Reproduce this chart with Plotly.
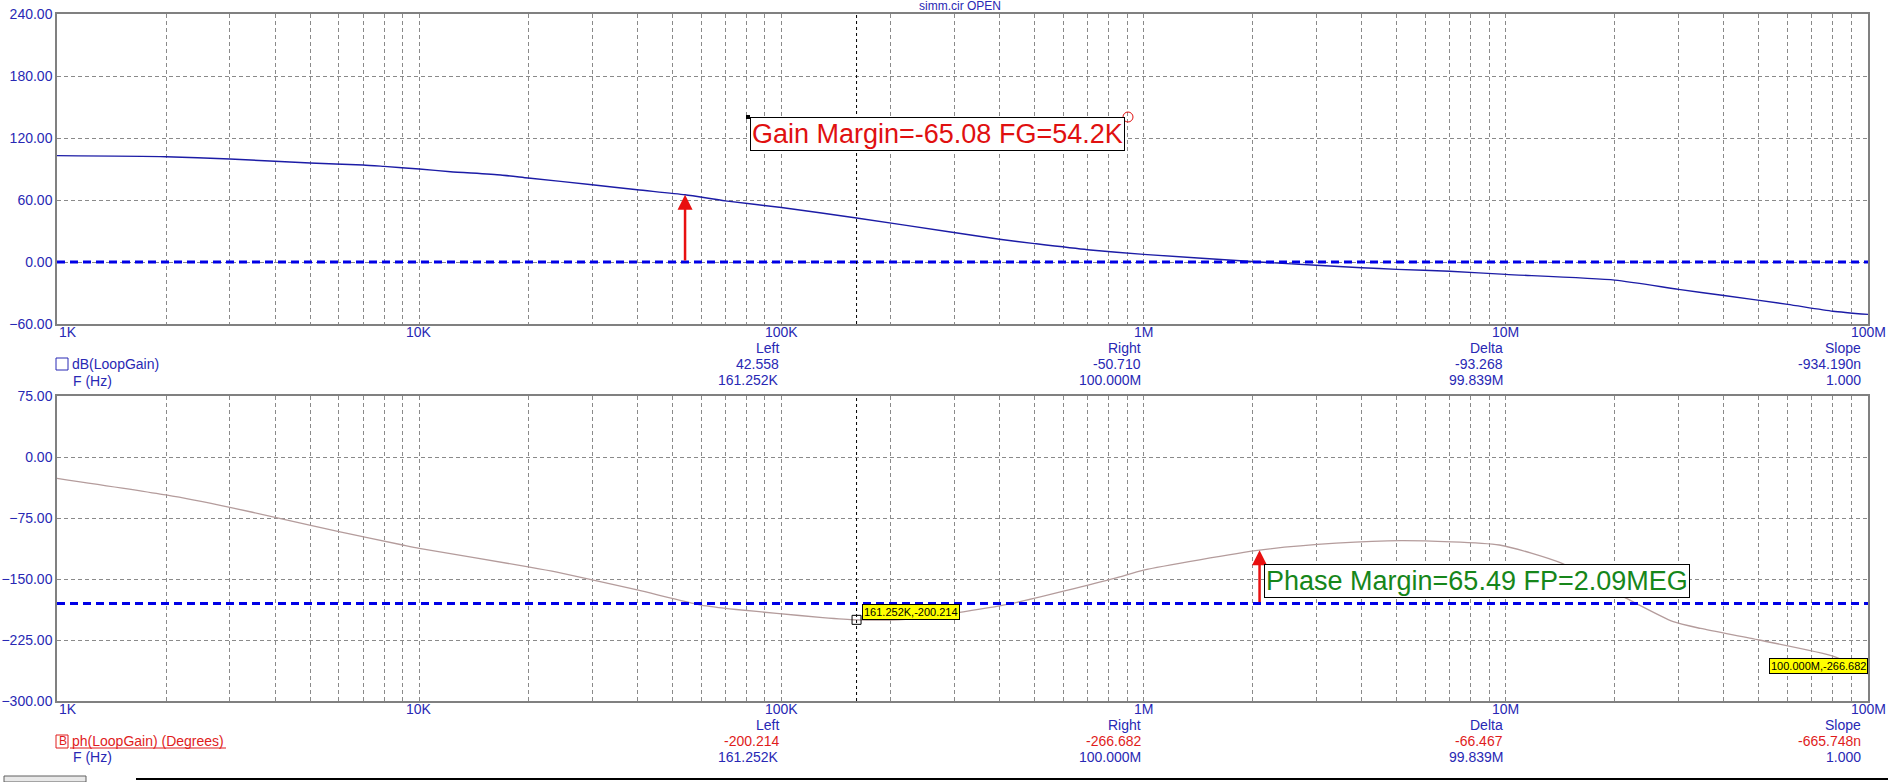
import numpy as np
import plotly.graph_objects as go

# ---------------- data ----------------
freq_gain = [1e3, 2e3, 3e3, 5e3, 7e3, 8e3, 10e3, 12.2e3, 16.8e3, 20e3, 30e3, 40e3, 54.2e3, 70e3,
             100e3, 161.252e3, 293e3, 400e3, 500e3, 700e3, 1e6, 2.09e6, 3e6, 4e6, 5e6, 7e6,
             10e6, 20e6, 30e6, 40e6, 60e6, 80e6, 100e6]
gain_db = [102.9, 101.9, 99.7, 95.8, 93.9, 92.5, 90.0, 87.4, 84.2, 81.3, 74.8, 69.9, 65.08, 59.2,
           52.7, 42.558, 29.0, 22.0, 17.8, 11.9, 7.4, 0.0, -3.2, -5.5, -7.1, -9.0,
           -12.0, -17.5, -26.5, -32.4, -41.0, -47.6, -50.710]

freq_phase = [1e3, 2e3, 3e3, 4e3, 6e3, 9e3, 10e3, 20e3, 24e3, 40e3, 60e3, 75e3, 97e3, 130e3,
              161.252e3, 220e3, 300e3, 434e3, 830e3, 1e6, 2.09e6, 3.4e6, 5.2e6, 9.6e6, 14.3e6,
              22e6, 29e6, 34.5e6, 50e6, 80e6, 90e6, 100e6]
phase_deg = [-26.2, -46.7, -61.9, -74.1, -91.8, -108.2, -112.3, -135.0, -141.5, -163.5, -182.0,
             -187.5, -192.2, -197.5, -200.214, -199.5, -192.0, -180.0, -149.2, -139.0, -114.51,
             -106.0, -102.9, -108.2, -130.8, -176.0, -202.5, -210.8, -225.0, -244.7, -255.0,
             -266.682]

x_tick_vals = [m * 10 ** d for d in range(3, 8) for m in range(1, 10)] + [1e8]
x_decade_vals = [1e3, 1e4, 1e5, 1e6, 1e7, 1e8]
x_decade_labels = ["1K", "10K", "100K", "1M", "10M", "100M"]
gain_ticks = [-60, 0, 60, 120, 180, 240]
phase_ticks = [-300, -225, -150, -75, 0, 75]

gain_margin = -65.08
fg = 54.2e3
phase_margin = 65.49
fp = 2.09e6
cursor_f = 161.252e3
cursor_phase = -200.214
end_f = 100e6
end_phase = -266.682

readout_heads = ["Left", "Right", "Delta", "Slope"]
gain_readout = ["42.558", "-50.710", "-93.268", "-934.190n"]
phase_readout = ["-200.214", "-266.682", "-66.467", "-665.748n"]
freq_readout = ["161.252K", "100.000M", "99.839M", "1.000"]

# ---------------- layout helpers ----------------
W, H = 1901, 782
L, R, T, B = 57, 1868, 14, 701


def px(x):
    return (x - L) / (R - L)


def py(y):
    return (B - y) / (B - T)


FONT = "Liberation Sans, Arial, sans-serif"
BLUE_TXT = "#2828b4"
RED_TXT = "#e01c1c"
GRID = "#8a8a8a"

fig = go.Figure()

# gain curve
fig.add_trace(go.Scatter(x=freq_gain, y=gain_db, mode="lines",
                         line=dict(color="#1c1ca6", width=1.4, shape="spline", smoothing=0.6),
                         xaxis="x", yaxis="y", hoverinfo="skip"))
# 0 dB reference
fig.add_trace(go.Scatter(x=[freq_gain[0], freq_gain[-1]], y=[0, 0], mode="lines",
                         line=dict(color="#0000e6", width=3, dash="8px,5px"),
                         xaxis="x", yaxis="y", hoverinfo="skip"))
# cursor (top)
fig.add_trace(go.Scatter(x=[cursor_f, cursor_f], y=[gain_ticks[0], gain_ticks[-1]], mode="lines",
                         line=dict(color="black", width=1, dash="3px,3px"),
                         xaxis="x", yaxis="y", hoverinfo="skip"))

# phase curve
fig.add_trace(go.Scatter(x=freq_phase, y=phase_deg, mode="lines",
                         line=dict(color="#b49c9c", width=1.3, shape="spline", smoothing=0.6),
                         xaxis="x2", yaxis="y2", hoverinfo="skip"))
# -180 reference
fig.add_trace(go.Scatter(x=[freq_phase[0], freq_phase[-1]], y=[-180, -180], mode="lines",
                         line=dict(color="#0000e6", width=3, dash="8px,5px"),
                         xaxis="x2", yaxis="y2", hoverinfo="skip"))
# cursor (bottom)
fig.add_trace(go.Scatter(x=[cursor_f, cursor_f], y=[phase_ticks[0], phase_ticks[-1]], mode="lines",
                         line=dict(color="black", width=1, dash="3px,3px"),
                         xaxis="x2", yaxis="y2", hoverinfo="skip"))
# cursor marker
fig.add_trace(go.Scatter(x=[cursor_f], y=[cursor_phase], mode="markers",
                         marker=dict(symbol="square-open", size=9, color="black", line=dict(width=1)),
                         xaxis="x2", yaxis="y2", hoverinfo="skip"))

xcommon = dict(type="log", range=[3, 8], tickvals=x_tick_vals, showticklabels=False,
               showgrid=True, gridcolor=GRID, griddash="4px,3px", gridwidth=1,
               showline=True, linecolor="#808080", linewidth=1.5, mirror=True,
               ticks="", zeroline=False, automargin=False)
ycommon = dict(showgrid=True, gridcolor=GRID, griddash="4px,3px", gridwidth=1,
               showline=True, linecolor="#808080", linewidth=1.5, mirror=True,
               ticks="", tickformat=".2f", zeroline=False, automargin=False,
               tickfont=dict(family=FONT, size=14, color=BLUE_TXT))

fig.update_layout(
    width=W, height=H,
    margin=dict(l=L, r=W - R, t=T, b=H - B, autoexpand=False),
    paper_bgcolor="white", plot_bgcolor="white",
    showlegend=False,
    xaxis=dict(domain=[0, 1], anchor="y", **xcommon),
    yaxis=dict(domain=[py(324), 1], anchor="x", range=[gain_ticks[0], gain_ticks[-1]],
               tickvals=gain_ticks, **ycommon),
    xaxis2=dict(domain=[0, 1], anchor="y2", **xcommon),
    yaxis2=dict(domain=[0, py(396)], anchor="x2", range=[phase_ticks[0], phase_ticks[-1]],
                tickvals=phase_ticks, **ycommon),
)

ann = []
# x-axis decade labels (first one left-aligned at the axis, the rest centred on their tick)
for xr, ypix in [("x", 332), ("x2", 709)]:
    for i, (v, lab) in enumerate(zip(x_decade_vals, x_decade_labels)):
        ann.append(dict(text=lab, x=np.log10(v), y=py(ypix), xref=xr, yref="paper",
                        xanchor="left" if i == 0 else "center", yanchor="middle",
                        showarrow=False, font=dict(family=FONT, size=14, color=BLUE_TXT)))

# title
ann.append(dict(text="simm.cir OPEN", x=px(960), y=py(6), xref="paper", yref="paper",
                xanchor="center", yanchor="middle",
                showarrow=False, font=dict(family=FONT, size=12, color=BLUE_TXT)))

# gain margin arrow
ann.append(dict(x=np.log10(fg), y=-gain_margin, ax=np.log10(fg), ay=0, xref="x", yref="y",
                axref="x", ayref="y", showarrow=True, arrowhead=2, arrowsize=1.2,
                arrowwidth=2.5, arrowcolor="#e81010", text=""))
ann.append(dict(text=f"Gain Margin={gain_margin:.2f} FG={fg / 1e3:.1f}K",
                x=px(937), y=py(134), xref="paper", yref="paper", showarrow=False,
                xanchor="center", yanchor="middle",
                font=dict(family=FONT, size=27, color="#e01010"),
                bgcolor="white", bordercolor="black", borderwidth=1, borderpad=1))
# phase margin arrow
ann.append(dict(x=np.log10(fp), y=-180 + phase_margin, ax=np.log10(fp), ay=-180, xref="x2",
                yref="y2", axref="x2", ayref="y2", showarrow=True, arrowhead=2, arrowsize=1.2,
                arrowwidth=2.5, arrowcolor="#e81010", text=""))
ann.append(dict(text=f"Phase Margin={phase_margin:.2f} FP={fp / 1e6:.2f}MEG",
                x=px(1477), y=py(580.5), xref="paper", yref="paper", showarrow=False,
                xanchor="center", yanchor="middle",
                font=dict(family=FONT, size=27, color="#16861a"),
                bgcolor="white", bordercolor="black", borderwidth=1, borderpad=1))

# cursor value labels
ann.append(dict(text=f"{cursor_f / 1e3:.3f}K,{cursor_phase:.3f}", x=np.log10(cursor_f),
                y=cursor_phase, xref="x2", yref="y2", xanchor="left", yanchor="bottom",
                xshift=5, showarrow=False, bgcolor="#ffff00", bordercolor="black",
                borderwidth=1, borderpad=1, font=dict(family=FONT, size=11, color="black")))
ann.append(dict(text=f"{end_f / 1e6:.3f}M,{end_phase:.3f}", x=np.log10(end_f),
                y=end_phase, xref="x2", yref="y2", xanchor="right", yanchor="bottom",
                showarrow=False, bgcolor="#ffff00", bordercolor="black",
                borderwidth=1, borderpad=1, font=dict(family=FONT, size=11, color="black")))

# readout columns
cols_x = [781, 1143, 1505, 1863]
for i, cx in enumerate(cols_x):
    for (txt, yy, col) in [(readout_heads[i], 348, BLUE_TXT), (gain_readout[i], 364, BLUE_TXT),
                           (freq_readout[i], 380, BLUE_TXT),
                           (readout_heads[i], 725, BLUE_TXT), (phase_readout[i], 741, RED_TXT),
                           (freq_readout[i], 757, BLUE_TXT)]:
        ann.append(dict(text=txt, x=px(cx), y=py(yy), xref="paper", yref="paper",
                        xanchor="right", yanchor="middle", showarrow=False,
                        font=dict(family=FONT, size=14, color=col)))

# trace legends
ann.append(dict(text="dB(LoopGain)", x=px(70), y=py(364), xref="paper", yref="paper",
                xanchor="left", yanchor="middle", showarrow=False,
                font=dict(family=FONT, size=14, color=BLUE_TXT)))
ann.append(dict(text="F (Hz)", x=px(71), y=py(381), xref="paper", yref="paper",
                xanchor="left", yanchor="middle", showarrow=False,
                font=dict(family=FONT, size=14, color=BLUE_TXT)))
ann.append(dict(text="B", x=px(62.5), y=py(741), xref="paper", yref="paper",
                xanchor="center", yanchor="middle", showarrow=False,
                font=dict(family=FONT, size=12, color=RED_TXT)))
ann.append(dict(text="ph(LoopGain) (Degrees)", x=px(70), y=py(741), xref="paper", yref="paper",
                xanchor="left", yanchor="middle", showarrow=False,
                font=dict(family=FONT, size=14, color=RED_TXT)))
ann.append(dict(text="F (Hz)", x=px(71), y=py(757), xref="paper", yref="paper",
                xanchor="left", yanchor="middle", showarrow=False,
                font=dict(family=FONT, size=14, color=BLUE_TXT)))

fig.update_layout(annotations=ann)

shapes = [
    dict(type="rect", xref="paper", yref="paper", x0=px(56), x1=px(68), y0=py(370), y1=py(358),
         line=dict(color="#2828b4", width=1)),
    dict(type="rect", xref="paper", yref="paper", x0=px(56), x1=px(68), y0=py(748), y1=py(735),
         line=dict(color=RED_TXT, width=1)),
    dict(type="line", xref="paper", yref="paper", x0=px(70), x1=px(226), y0=py(748), y1=py(748),
         line=dict(color=RED_TXT, width=1)),
    dict(type="circle", xref="paper", yref="paper", x0=px(1123), x1=px(1133), y0=py(122), y1=py(112),
         line=dict(color="#e01010", width=1)),
    dict(type="rect", xref="paper", yref="paper", x0=px(746), x1=px(750), y0=py(119), y1=py(115),
         fillcolor="black", line=dict(width=0)),
    dict(type="line", xref="paper", yref="paper", x0=px(136), x1=px(1888), y0=py(779), y1=py(779),
         line=dict(color="black", width=2)),
    dict(type="rect", xref="paper", yref="paper", x0=px(4), x1=px(86), y0=py(782), y1=py(776),
         line=dict(color="#606060", width=1), fillcolor="#e8e8e8"),
]
fig.update_layout(shapes=shapes)

fig.write_html("out.html", config={"displayModeBar": False},
               post_script="document.body.style.margin='0px';")
